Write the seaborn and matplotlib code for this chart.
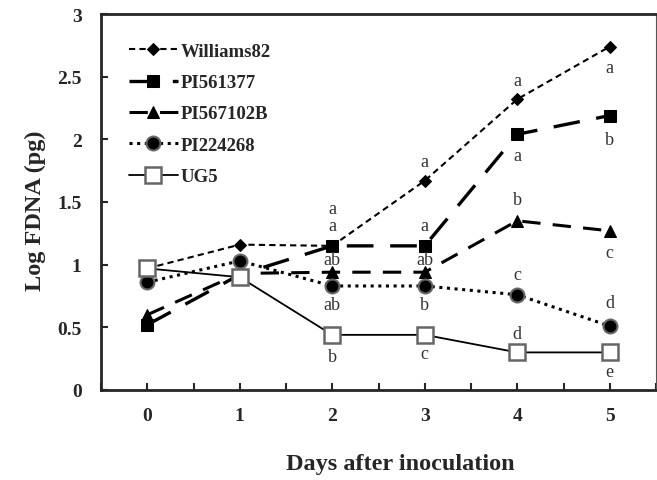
import numpy as np
import pandas as pd
import matplotlib.pyplot as plt
import seaborn as sns

# data
days = [0, 1, 2, 3, 4, 5]
williams82 = [0.97, 1.16, 1.15, 1.67, 2.32, 2.74]
pi561377 = [0.52, 0.92, 1.15, 1.15, 2.04, 2.19]
pi567102b = [0.60, 0.93, 0.94, 0.94, 1.35, 1.27]
pi224268 = [0.86, 1.03, 0.83, 0.83, 0.76, 0.51]
ug5 = [0.97, 0.90, 0.44, 0.44, 0.30, 0.30]

# significance letters (day, label, y position)
letters_w82 = [(2, "a", 1.45), (3, "a", 1.82), (4, "a", 2.47), (5, "a", 2.57)]
letters_561 = [(2, "a", 1.31), (3, "a", 1.31), (4, "a", 1.87), (5, "b", 2.00)]
letters_567 = [(2, "ab", 1.04), (3, "ab", 1.04), (4, "b", 1.52), (5, "c", 1.10)]
letters_224 = [(2, "ab", 0.68), (3, "b", 0.68), (4, "c", 0.92), (5, "d", 0.70)]
letters_ug5 = [(2, "b", 0.27), (3, "c", 0.29), (4, "d", 0.45), (5, "e", 0.15)]

sns.set_style("ticks")
plt.rcParams['font.family'] = ['Liberation Serif', 'DejaVu Serif']

fig = plt.figure(figsize=(6.57, 4.81), dpi=100)
ax = fig.add_axes([101 / 657, 1 - 391 / 481, 555 / 657, 376 / 481])

series = [
    ("Williams82", williams82, dict(marker="D", markersize=6, linewidth=1.5,
                                    linestyle=(0, (3, 2)), markerfacecolor="black",
                                    markeredgecolor="black")),
    ("PI561377", pi561377, dict(marker="s", markersize=9, linewidth=2.4,
                                linestyle=(0, (8, 5)), markerfacecolor="black",
                                markeredgecolor="black")),
    ("PI567102B", pi567102b, dict(marker="^", markersize=9, linewidth=2.2,
                                  linestyle=(0, (6, 4)), markerfacecolor="black",
                                  markeredgecolor="black")),
    ("PI224268", pi224268, dict(marker="o", markersize=10, linewidth=2.2,
                                linestyle=(0, (1, 1.5)), markerfacecolor="black",
                                markeredgecolor="#666666", markeredgewidth=1.5)),
    ("UG5", ug5, dict(marker="s", markersize=12, linewidth=1.3,
                      linestyle="-", markerfacecolor="white",
                      markeredgecolor="#666666", markeredgewidth=1.8)),
]

for name, vals, style in series:
    df = pd.DataFrame({"Day": days, "LogFDNA": vals})
    sns.lineplot(data=df, x="Day", y="LogFDNA", ax=ax, color="black",
                 label=name, **style)

for group in [letters_w82, letters_561, letters_567, letters_224, letters_ug5]:
    for d, lab, yy in group:
        ax.text(d, yy, lab, ha="center", va="center", fontsize=13, color="#333333")

ax.set_xlim(-0.5, 5.5)
ax.set_ylim(0, 3)
ax.set_xticks(days)
ax.set_xticks(np.arange(-0.5, 5.6, 0.5), minor=True)
ax.set_yticks([0, 0.5, 1, 1.5, 2, 2.5, 3])
ax.set_yticklabels(["0", "0.5", "1", "1.5", "2", "2.5", "3"])
ax.tick_params(axis="both", which="both", direction="in", length=5, width=1.5,
               labelsize=14, pad=14)
ax.tick_params(axis="x", pad=12)
for lbl in ax.get_xticklabels() + ax.get_yticklabels():
    lbl.set_fontweight("bold")

for side in ["left", "bottom", "top"]:
    ax.spines[side].set_linewidth(2)
ax.spines["right"].set_linewidth(0.8)
ax.spines["right"].set_color("#555555")

ax.set_xlabel("Days after inoculation", fontsize=17.5, fontweight="bold")
ax.xaxis.set_label_coords(0.54, -0.168)
ax.set_ylabel("Log FDNA (pg)", fontsize=17.5, fontweight="bold")
ax.yaxis.set_label_coords(-0.10, 0.48)

leg = ax.legend(loc="upper left", frameon=False, handlelength=2.6,
                labelspacing=0.76, borderaxespad=0, borderpad=0,
                bbox_to_anchor=(0.05, 0.924), handletextpad=0.15,
                prop={"weight": "bold", "size": 13.5})

fig.savefig("out.png", dpi=100)
